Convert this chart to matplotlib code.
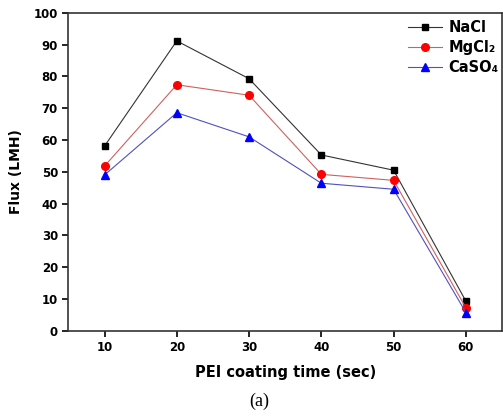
import matplotlib
matplotlib.use("Agg")
import matplotlib.pyplot as plt

# coating time (sec)
coat_time = [10, 20, 30, 40, 50, 60]

# flux values (LMH)
flux_nacl = [58.1, 91.2, 79.3, 55.3, 50.5, 9.3]
flux_mgcl2 = [51.8, 77.4, 74.1, 49.2, 47.3, 7.2]
flux_caso4 = [49.0, 68.6, 61.0, 46.4, 44.5, 5.7]

labels = ["NaCl", "MgCl\u2082", "CaSO\u2084"]

plt.rcParams['font.family'] = ['DejaVu Sans']
plt.rcParams['font.weight'] = 'bold'

fig = plt.figure(figsize=(5.03, 4.18), dpi=100)
ax = fig.add_axes([0.136, 0.209, 0.862, 0.760])

ax.plot(coat_time, flux_nacl, color='#333333', lw=0.8, marker='s', ms=4.5,
        mfc='black', mec='black', label=labels[0])
ax.plot(coat_time, flux_mgcl2, color='#d06060', lw=0.8, marker='o', ms=5.5,
        mfc='red', mec='red', label=labels[1])
ax.plot(coat_time, flux_caso4, color='#5050c0', lw=0.8, marker='^', ms=6,
        mfc='blue', mec='blue', label=labels[2])

ax.set_xlim(5, 65)
ax.set_ylim(0, 100)
ax.set_xticks(coat_time)
ax.set_yticks(range(0, 101, 10))
ax.tick_params(direction='out', length=4, width=1.2, labelsize=8.5,
               top=False, right=False)
for lab in ax.get_xticklabels() + ax.get_yticklabels():
    lab.set_fontweight('bold')
for sp in ax.spines.values():
    sp.set_linewidth(1.2)
    sp.set_color('#333333')

ax.set_xlabel('PEI coating time (sec)', fontsize=10.5, fontweight='bold', labelpad=8)
ax.set_ylabel('Flux (LMH)', fontsize=10, fontweight='bold', labelpad=8)

leg = ax.legend(loc='upper right', bbox_to_anchor=(1.0, 0.988), frameon=False,
                fontsize=10.5, handlelength=2.3, handletextpad=0.45,
                borderaxespad=0.05, borderpad=0.2, labelspacing=0.32)
for t in leg.get_texts():
    t.set_fontweight('bold')

fig.text(0.515, 0.03, '(a)', fontsize=13, family='Liberation Serif', ha='center',
         fontweight='normal')

fig.savefig('out.png', dpi=100)
